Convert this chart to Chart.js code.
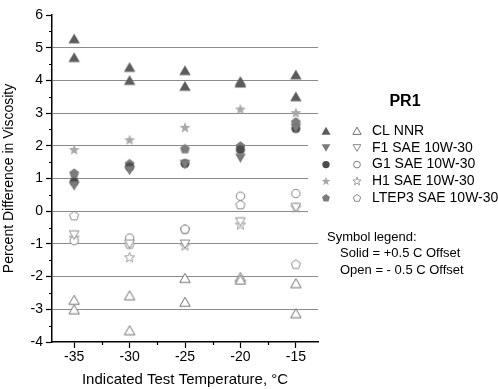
<!DOCTYPE html>
<html>
<head>
<meta charset="utf-8">
<script src="https://cdn.jsdelivr.net/npm/chart.js@4.4.0/dist/chart.umd.min.js"></script>
<style>
  html, body { margin: 0; padding: 0; background: #fff; }
  #wrap { width: 498px; height: 389px; position: relative; }
</style>
</head>
<body>
<div id="wrap"><canvas id="chart"></canvas></div>
<script>
// Test temperatures (x) and axis ticks
const temps = [-35, -30, -25, -20, -15];
const xTicks = [-35, -30, -25, -20, -15];
const yTicks = [-4, -3, -2, -1, 0, 1, 2, 3, 4, 5, 6];

// CL NNR has two runs at each temperature
const clSolidA = [5.27, 4.40, 4.30, 3.97, 4.17];
const clSolidB = [4.70, 4.00, 3.82, 3.92, 3.50];
const clOpenA = [-2.72, -2.58, -2.05, -2.02, -2.21];
const clOpenB = [-3.01, -3.65, -2.78, -2.10, -3.13];

// Solid = +0.5 C offset
const f1Solid = [0.78, 1.25, 1.44, 1.63, 2.55];
const g1Solid = [0.90, 1.35, 1.46, 1.88, 2.53];
const h1Solid = [1.87, 2.17, 2.55, 3.11, 3.00];
const ltep3Solid = [1.15, 1.44, 1.90, 1.98, 2.72];

// Open = -0.5 C offset
const f1Open = [-0.72, -1.00, -1.00, -0.32, 0.12];
const g1Open = [-0.90, -0.82, -0.55, 0.46, 0.54];
const h1Open = [-0.82, -1.42, -1.06, -0.42, 0.10];
const ltep3Open = [-0.15, -1.02, -0.56, 0.19, -1.63];

const seriesNames = ['CL NNR', 'F1 SAE 10W-30', 'G1 SAE 10W-30', 'H1 SAE 10W-30', 'LTEP3 SAE 10W-30'];
const shapes = ['up', 'down', 'circle', 'star', 'pentagon'];
const solidColors = ['#5c5c5c', '#7a7a7a', '#4b4b4b', '#a8a8a8', '#7c7c7c'];
const openColors = ['#707070', '#8a8a8a', '#808080', '#9c9c9c', '#8a8a8a'];
const solidSizes = [6.6, 6.2, 4.6, 5.8, 5.2];
const openSizes = [6.0, 5.6, 4.2, 5.4, 4.8];

const FONT = '"Liberation Sans", Arial, sans-serif';

function shapePath(ctx, shape, x, y, r) {
    ctx.beginPath();
    if (shape === 'circle') {
        ctx.arc(x, y, r, 0, Math.PI * 2);
    } else {
        let n, start, inner = null;
        if (shape === 'up') { n = 3; start = -90; }
        else if (shape === 'down') { n = 3; start = 90; }
        else if (shape === 'pentagon') { n = 5; start = -90; }
        else { n = 10; start = -90; inner = r * 0.42; }
        for (let k = 0; k < n; k++) {
            const a = (start + k * 360 / n) * Math.PI / 180;
            const rr = (inner !== null && k % 2 === 1) ? inner : r;
            const px = x + rr * Math.cos(a);
            const py = y + rr * Math.sin(a) + (n === 3 ? (shape === 'up' ? r * 0.2 : -r * 0.2) : 0);
            if (k === 0) ctx.moveTo(px, py); else ctx.lineTo(px, py);
        }
        ctx.closePath();
    }
}

function drawMarker(ctx, shape, x, y, r, filled, color) {
    ctx.save();
    shapePath(ctx, shape, x, y, r);
    if (filled) {
        ctx.fillStyle = color;
        ctx.fill();
    } else {
        ctx.fillStyle = '#fff';
        ctx.fill();
        ctx.strokeStyle = color;
        ctx.lineWidth = 1;
        ctx.stroke();
    }
    ctx.restore();
}

function markerCanvas(shape, r, filled, color) {
    const size = Math.ceil(r * 2 + 4);
    const c = document.createElement('canvas');
    c.width = size; c.height = size;
    drawMarker(c.getContext('2d'), shape, size / 2, size / 2, r, filled, color);
    return c;
}

function pts(values) {
    return temps.map((t, i) => ({ x: t, y: values[i] }));
}

const solidData = [
    pts(clSolidA).concat(pts(clSolidB)),
    pts(f1Solid), pts(g1Solid), pts(h1Solid), pts(ltep3Solid)
];
const openData = [
    pts(clOpenA).concat(pts(clOpenB)),
    pts(f1Open), pts(g1Open), pts(h1Open), pts(ltep3Open)
];

const datasets = [];
seriesNames.forEach((name, i) => {
    datasets.push({
        label: name + ' (+0.5 C)',
        data: solidData[i],
        pointStyle: markerCanvas(shapes[i], solidSizes[i], true, solidColors[i]),
        pointRadius: solidSizes[i]
    });
});
seriesNames.forEach((name, i) => {
    datasets.push({
        label: name + ' (-0.5 C)',
        data: openData[i],
        pointStyle: markerCanvas(shapes[i], openSizes[i], false, openColors[i]),
        pointRadius: openSizes[i]
    });
});

// legend, minor ticks and notes drawn on the canvas
const decor = {
    id: 'decor',
    beforeDatasetsDraw(chart) {
        const ctx = chart.ctx;
        const a = chart.chartArea;
        const xs = chart.scales.x, ys = chart.scales.y;
        ctx.save();
        // legend box background hides grid under it
        ctx.fillStyle = '#fff';
        ctx.fillRect(a.right - 10, ys.getPixelForValue(2.8), 12, ys.getPixelForValue(-0.5) - ys.getPixelForValue(2.8));
        // minor ticks
        ctx.strokeStyle = '#000';
        ctx.lineWidth = 1.2;
        ctx.beginPath();
        for (let i = 0; i < yTicks.length - 1; i++) {
            const y = Math.round(ys.getPixelForValue((yTicks[i] + yTicks[i + 1]) / 2)) + 0.5;
            ctx.moveTo(a.left - 3, y); ctx.lineTo(a.left, y);
        }
        for (let i = 0; i < xTicks.length - 1; i++) {
            const x = Math.round(xs.getPixelForValue((xTicks[i] + xTicks[i + 1]) / 2)) + 0.5;
            ctx.moveTo(x, a.bottom); ctx.lineTo(x, a.bottom + 3);
        }
        ctx.stroke();
        ctx.restore();
    },
    afterDraw(chart) {
        const ctx = chart.ctx;
        const a = chart.chartArea;
        const solidX = a.right + 8, openX = a.right + 39, textX = a.right + 54;
        ctx.save();
        ctx.fillStyle = '#000';
        ctx.textBaseline = 'middle';
        ctx.font = 'bold 16px ' + FONT;
        ctx.textAlign = 'center';
        ctx.fillText('PR1', a.right + 87, 102);
        ctx.textAlign = 'left';
        ctx.font = '14px ' + FONT;
        seriesNames.forEach((name, i) => {
            const y = 131 + i * 16.8;
            drawMarker(ctx, shapes[i], solidX, y, solidSizes[i] * 0.8, true, solidColors[i]);
            drawMarker(ctx, shapes[i], openX, y, openSizes[i] * 0.8, false, openColors[i]);
            ctx.fillText(name, textX, y);
        });
        ctx.font = '13px ' + FONT;
        ctx.fillText('Symbol legend:', a.right + 9, 237);
        ctx.fillText('Solid = +0.5 C Offset', a.right + 22, 253.5);
        ctx.fillText('Open = - 0.5 C Offset', a.right + 22, 270);
        ctx.restore();
    }
};

new Chart(document.getElementById('chart'), {
    type: 'scatter',
    data: { datasets: datasets },
    options: {
        responsive: true,
        maintainAspectRatio: false,
        animation: false,
        layout: { padding: { left: 0, right: 180, top: 15, bottom: 0 } },
        plugins: {
            legend: { display: false },
            tooltip: { enabled: false }
        },
        scales: {
            x: {
                type: 'linear',
                min: -37,
                max: -13,
                afterBuildTicks: s => { s.ticks = xTicks.map(v => ({ value: v })); },
                afterFit: s => { s.height = 47; },
                border: { color: '#000', width: 1.5 },
                grid: { drawOnChartArea: false, tickLength: 6, tickColor: '#000', tickWidth: 1.2 },
                ticks: { color: '#000', font: { family: FONT, size: 14 }, padding: 1 },
                title: {
                    display: true,
                    text: 'Indicated Test Temperature, °C',
                    color: '#000',
                    font: { family: FONT, size: 15 },
                    padding: { top: 2, bottom: 0 }
                }
            },
            y: {
                min: -4,
                max: 6,
                afterBuildTicks: s => { s.ticks = yTicks.map(v => ({ value: v })); },
                afterFit: s => { s.width = 52; },
                border: { color: '#000', width: 1.5 },
                grid: {
                    color: c => (c.tick && c.tick.value > -4 && c.tick.value < 6) ? '#8c8c8c' : 'rgba(0,0,0,0)',
                    lineWidth: 1,
                    tickLength: 6,
                    tickColor: '#000',
                    tickWidth: 1.2
                },
                ticks: { color: '#000', font: { family: FONT, size: 14 }, padding: 3 },
                title: {
                    display: true,
                    text: 'Percent Difference in Viscosity',
                    color: '#000',
                    font: { family: FONT, size: 14 },
                    padding: { top: 1, bottom: 2 }
                }
            }
        }
    },
    plugins: [decor]
});
</script>
</body>
</html>
